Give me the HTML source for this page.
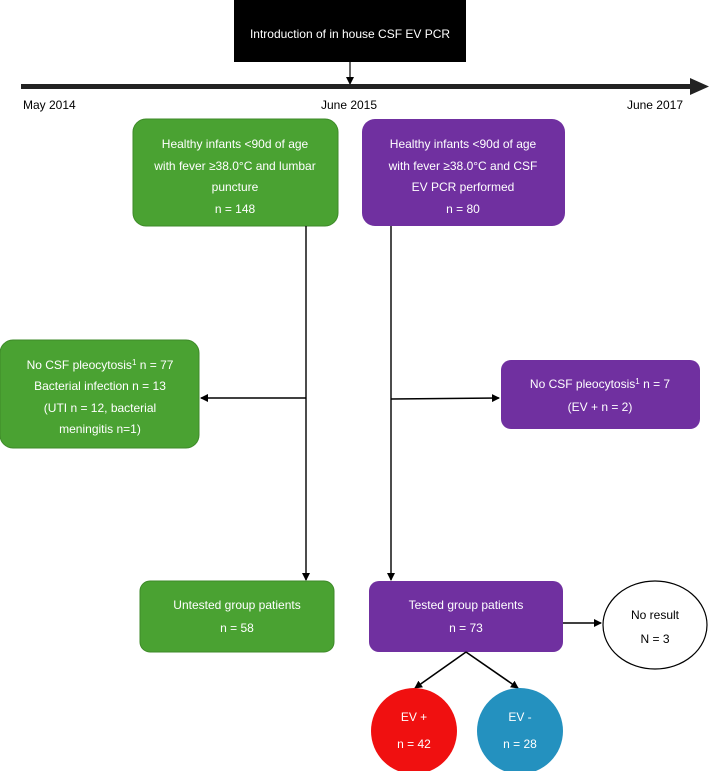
<!DOCTYPE html>
<html><head><meta charset="utf-8"><style>
body{margin:0;background:#fff;}
svg text{font-family:"Liberation Sans",sans-serif;font-size:12px;text-anchor:middle;}
</style></head><body>
<svg width="709" height="771" xmlns="http://www.w3.org/2000/svg">
<defs><marker id="a" markerWidth="8" markerHeight="8" refX="7" refY="4" orient="auto" markerUnits="userSpaceOnUse"><path d="M0,0 L8,4 L0,8 z" fill="#000"/></marker></defs>
<rect x="234" y="0" width="232" height="62" fill="#000"/>
<text x="350" y="38" fill="#fff">Introduction of in house CSF EV PCR</text>
<line x1="350" y1="62" x2="350" y2="84" stroke="#000" stroke-width="1.2" marker-end="url(#a)"/>
<rect x="21" y="84" width="672" height="5" fill="#222"/>
<path d="M690,78 L709,86.5 L690,95 z" fill="#222"/>
<text x="23" y="109" style="text-anchor:start" fill="#000">May 2014</text>
<text x="349" y="109" fill="#000">June 2015</text>
<text x="683" y="109" style="text-anchor:end" fill="#000">June 2017</text>
<g fill="#fff">
<rect x="133" y="119" width="205" height="107" rx="13" fill="#4aa232" stroke="#3d8a28"/>
<text x="235" y="148">Healthy infants &lt;90d of age</text>
<text x="235" y="170">with fever ≥38.0°C and lumbar</text>
<text x="235" y="191">puncture</text>
<text x="235" y="213">n = 148</text>
<rect x="362" y="119" width="203" height="107" rx="13" fill="#7030a0"/>
<text x="463" y="148">Healthy infants &lt;90d of age</text>
<text x="463" y="170">with fever ≥38.0°C and CSF</text>
<text x="463" y="191">EV PCR performed</text>
<text x="463" y="213">n = 80</text>
</g>
<line x1="306" y1="226" x2="306" y2="580" stroke="#000" stroke-width="1.4" marker-end="url(#a)"/>
<line x1="391" y1="226" x2="391" y2="580" stroke="#000" stroke-width="1.4" marker-end="url(#a)"/>
<line x1="306" y1="398" x2="201" y2="398" stroke="#000" stroke-width="1.4" marker-end="url(#a)"/>
<line x1="391" y1="399" x2="499" y2="398" stroke="#000" stroke-width="1.4" marker-end="url(#a)"/>
<g fill="#fff">
<rect x="0" y="340" width="199" height="108" rx="13" fill="#4aa232" stroke="#3d8a28"/>
<text x="100" y="369">No CSF pleocytosis<tspan dy="-4" font-size="8">1</tspan><tspan dy="4">  n = 77</tspan></text>
<text x="100" y="390">Bacterial infection  n = 13</text>
<text x="100" y="412">(UTI  n = 12, bacterial</text>
<text x="100" y="433">meningitis  n=1)</text>
<rect x="501" y="360" width="199" height="69" rx="10" fill="#7030a0"/>
<text x="600" y="388">No CSF pleocytosis<tspan dy="-4" font-size="8">1</tspan><tspan dy="4">  n = 7</tspan></text>
<text x="600" y="411">(EV + n = 2)</text>
<rect x="140" y="581" width="194" height="71" rx="10" fill="#4aa232" stroke="#3d8a28"/>
<text x="237" y="609">Untested group patients</text>
<text x="237" y="632">n = 58</text>
<rect x="369" y="581" width="194" height="71" rx="10" fill="#7030a0"/>
<text x="466" y="609">Tested group patients</text>
<text x="466" y="632">n = 73</text>
</g>
<line x1="563" y1="623" x2="601" y2="623" stroke="#000" stroke-width="1.6" marker-end="url(#a)"/>
<ellipse cx="655" cy="625" rx="52" ry="44" fill="#fff" stroke="#000" stroke-width="1.2"/>
<text x="655" y="619" fill="#000">No result</text>
<text x="655" y="643" fill="#000">N = 3</text>
<line x1="466" y1="652" x2="415" y2="688" stroke="#000" stroke-width="1.6" marker-end="url(#a)"/>
<line x1="466" y1="652" x2="518" y2="688" stroke="#000" stroke-width="1.6" marker-end="url(#a)"/>
<circle cx="414" cy="731" r="43" fill="#f01010"/>
<circle cx="520" cy="731" r="43" fill="#2491bf"/>
<text x="414" y="721" fill="#fff">EV +</text>
<text x="414" y="748" fill="#fff">n = 42</text>
<text x="520" y="721" fill="#fff">EV -</text>
<text x="520" y="748" fill="#fff">n = 28</text>
</svg>
</body></html>
